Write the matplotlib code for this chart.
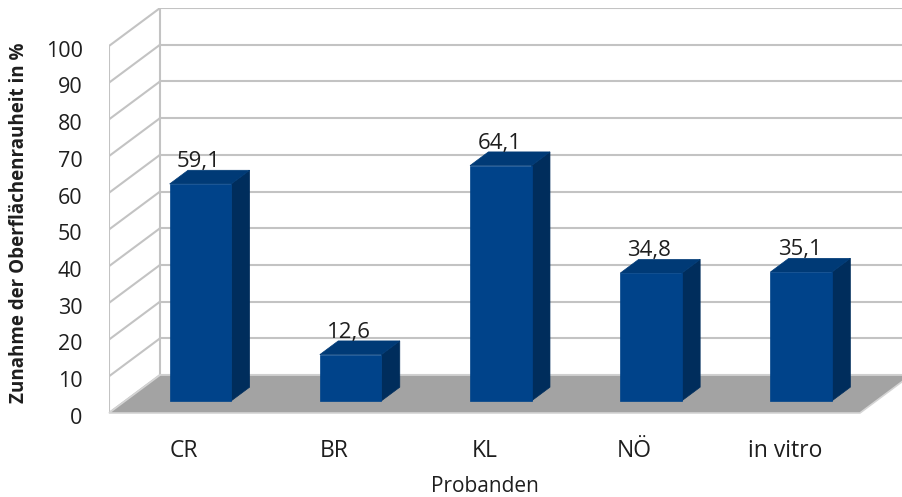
import matplotlib
matplotlib.use("Agg")
import matplotlib.pyplot as plt
from matplotlib.patches import Polygon
from matplotlib.transforms import ScaledTranslation

plt.rcParams["font.family"] = ["Open Sans", "DejaVu Sans"]

categories = ["CR", "BR", "KL", "NÖ", "in vitro"]
values = [59.1, 12.6, 64.1, 34.8, 35.1]
value_labels = ["59,1", "12,6", "64,1", "34,8", "35,1"]
y_ticks = list(range(0, 101, 10))

# oblique "3D" look: a depth z in [0, 1] moves a point right and up
DEPTH_X = 0.34     # in category units
DEPTH_Y = 10.35    # in value units
BAR_W = 0.41
Z0, Z1 = 0.32, 0.68   # bar depth slab

GRID = "#c3c3c3"
FLOOR = "#a3a3a3"
BAR_FRONT = "#00438a"
BAR_SIDE = "#002d5c"
BAR_TOP = "#003a76"
TEXT = "#1e1e1e"


def proj(x, y, z):
    return (x + z * DEPTH_X, y + z * DEPTH_Y)


fig = plt.figure(figsize=(9.02, 4.97), dpi=100)
ax = fig.add_axes([109 / 902, 84 / 497, 802 / 902, 405 / 497])
ax.set_xlim(-0.5, 4.5 + DEPTH_X)
ax.set_ylim(0, 100 + DEPTH_Y)
ax.set_facecolor("none")
for s in ax.spines.values():
    s.set_visible(False)

x0, x1 = -0.5, len(categories) - 0.5

# back wall and side wall gridlines
for v in y_ticks:
    ax.plot(*zip(proj(x0, v, 1), proj(x1, v, 1)), color=GRID, lw=1.5, zorder=1)
    ax.plot(*zip(proj(x0, v, 0), proj(x0, v, 1)), color=GRID, lw=1.5, zorder=1)
ax.plot(*zip(proj(x0, 0, 0), proj(x0, 100, 0)), color=GRID, lw=1.5, zorder=1)
ax.plot(*zip(proj(x0, 0, 1), proj(x0, 100, 1)), color=GRID, lw=1.5, zorder=1)

# floor
floor = Polygon([proj(x0, 0, 0), proj(x1, 0, 0), proj(x1, 0, 1), proj(x0, 0, 1)],
                closed=True, fc=FLOOR, ec="#d4d4d4", lw=1.2, zorder=2, clip_on=False)
ax.add_patch(floor)

# bars
for i, v in enumerate(values):
    l, r = i - BAR_W / 2, i + BAR_W / 2
    front = [proj(l, 0, Z0), proj(r, 0, Z0), proj(r, v, Z0), proj(l, v, Z0)]
    side = [proj(r, 0, Z0), proj(r, 0, Z1), proj(r, v, Z1), proj(r, v, Z0)]
    top = [proj(l, v, Z0), proj(r, v, Z0), proj(r, v, Z1), proj(l, v, Z1)]
    for pts, c in ((side, BAR_SIDE), (top, BAR_TOP), (front, BAR_FRONT)):
        ax.add_patch(Polygon(pts, closed=True, fc=c, ec=c, lw=0.5, zorder=3))
    ax.text(i + Z0 * DEPTH_X - 0.01, v + Z1 * DEPTH_Y + 0.9, value_labels[i],
            ha="center", va="baseline", fontsize=16, color=TEXT, zorder=5)

ax.set_yticks(y_ticks)
ax.set_yticklabels([str(t) for t in y_ticks])
ax.tick_params(axis="y", length=0, pad=19, labelsize=15.5, labelcolor=TEXT)
shift = ScaledTranslation(0, -2 / 72, fig.dpi_scale_trans)
for lab in ax.get_yticklabels():
    lab.set_transform(lab.get_transform() + shift)

ax.set_xticks(range(len(categories)))
ax.set_xticklabels(categories)
ax.tick_params(axis="x", length=0, pad=19, labelsize=16.5, labelcolor=TEXT)

ax.annotate("Probanden", xy=(2, 0), xycoords=("data", "axes fraction"),
            xytext=(0, -53), textcoords="offset points",
            ha="center", va="center", fontsize=15, color=TEXT)
fig.text(19 / 902, 1 - 223 / 497, "Zunahme der Oberflächenrauheit in %",
         rotation=90, ha="center", va="center", fontsize=13.5,
         fontweight="bold", color=TEXT)

fig.savefig("out.png", dpi=100)
